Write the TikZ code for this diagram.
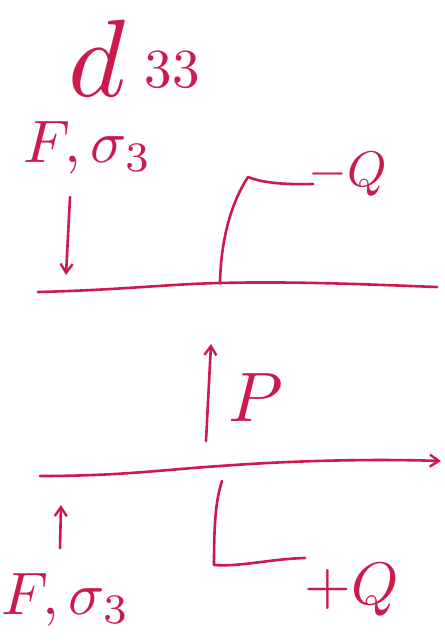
\documentclass[tikz,border=0pt]{standalone}
\usetikzlibrary{arrows.meta}
\definecolor{ink}{RGB}{205,25,75}
\begin{document}
\begin{tikzpicture}[x=1pt,y=-1pt,
  inkline/.style={draw=ink, line width=2.6pt, line cap=round, line join=round},
  barb/.style={-{Straight Barb[length=9pt,width=12pt,line width=2.4pt]}},
  lbl/.style={text=ink, inner sep=0pt}]
\useasboundingbox[fill=white] (0,0) rectangle (444,644);
% labels
\node[lbl, scale=11] (d) at (97,58) {$d$};
\node[lbl, scale=5.5] (d33) at (172,70) {33};
\node[lbl, scale=6] (F1) at (88,148) {$F,\sigma_3$};
\node[lbl, scale=5] (mQ) at (348,174) {$-Q$};
\node[lbl, scale=7] (P) at (256,398) {$P$};
\node[lbl, scale=6] (pQ) at (352,590) {$+Q$};
\node[lbl, scale=6] (F2) at (66,600) {$F,\sigma_3$};
% coordinates
\coordinate (a1s) at (70,197);
\coordinate (a1e) at (66,275);
\coordinate (L1l) at (38,292);
\coordinate (J1) at (220,283);
\coordinate (L1r) at (437,287);
\coordinate (K1) at (248,177);
\coordinate (W1) at (313,184);
\coordinate (Ps) at (206,441);
\coordinate (Pe) at (211,344);
\coordinate (L2l) at (40,476);
\coordinate (J2) at (220,466);
\coordinate (L2r) at (441,461);
\coordinate (V2) at (222,481);
\coordinate (K2) at (214,565);
\coordinate (W2) at (305,558);
\coordinate (a2s) at (60,548);
\coordinate (a2e) at (61,505);
% drawing
\draw[inkline, barb] (a1s) -- (a1e);
\draw[inkline] (L1l) .. controls (120,290) and (170,284) .. (J1) .. controls (300,281) and (380,285) .. (L1r);
\draw[inkline] (J1) .. controls (221,235) and (233,200) .. (K1) .. controls (258,181) and (275,185) .. (W1);
\draw[inkline, barb] (Ps) -- (Pe);
\draw[inkline, barb] (L2l) .. controls (120,476) and (160,470) .. (J2) .. controls (300,460) and (380,459) .. (L2r);
\draw[inkline] (V2) .. controls (216,500) and (214,520) .. (K2) .. controls (240,567) and (270,559) .. (W2);
\draw[inkline, barb] (a2s) -- (a2e);
\end{tikzpicture}
\end{document}
